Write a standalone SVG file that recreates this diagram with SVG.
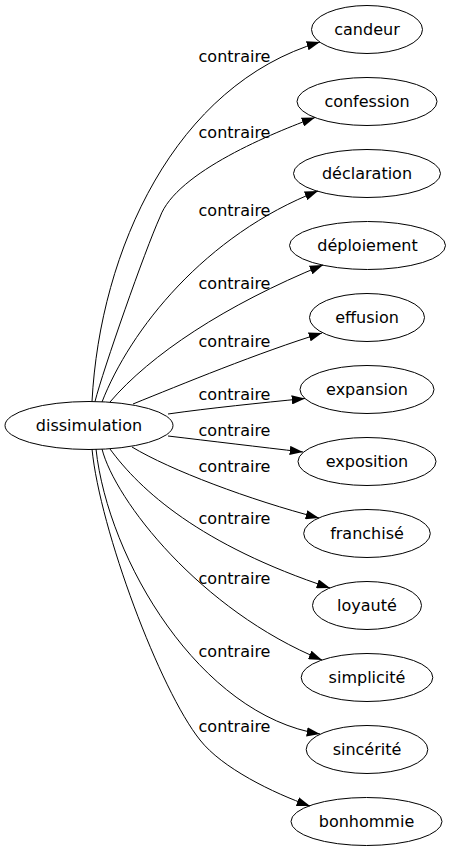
<svg xmlns="http://www.w3.org/2000/svg" width="452" height="851" viewBox="0 0 452 851">
<style>
text { font-family: "DejaVu Sans", "Liberation Sans", sans-serif; font-size: 16px; fill: #000; }
.node ellipse { fill: none; stroke: #000; stroke-width: 1; }
.node text { text-anchor: middle; }
.edge { fill: none; stroke: #000; stroke-width: 1; marker-end: url(#arr); }
.lbl { text-anchor: middle; }
</style>
<defs>
<marker id="arr" markerUnits="userSpaceOnUse" markerWidth="13.3" markerHeight="9.3" viewBox="0 0 13.3 9.3" refX="13.3" refY="4.65" orient="auto">
<path d="M0,0 L13.3,4.65 L0,9.3 z" fill="#000"/>
</marker>
</defs>
<rect width="452" height="851" fill="#fff"/>
<g id="connectors">
<path class="edge" d="M92,401.5 C100,250 175,85 320,42"/>
<path class="edge" d="M95,401.5 C103,370 145,250 160,217 C176,172 275,132 315,117.5"/>
<path class="edge" d="M102,402 C130,330 205,235 318,191"/>
<path class="edge" d="M110,402 C150,355 225,305 323,265"/>
<path class="edge" d="M133,404 C180,385 260,352 322,333"/>
<path class="edge" d="M168,414 C210,408 260,403 305,398.5"/>
<path class="edge" d="M168,436 C210,441 260,447 303,452"/>
<path class="edge" d="M132,447 C170,470 250,500 319,518"/>
<path class="edge" d="M110,449 C140,490 200,545 330,588"/>
<path class="edge" d="M102,449 C115,500 200,610 322,660"/>
<path class="edge" d="M96,449 C108,560 200,715 320,734"/>
<path class="edge" d="M92,449 C100,530 160,690 200,740 C222,768 273,793 310,806"/>
<text class="lbl" x="234.5" y="61.5">contraire</text>
<text class="lbl" x="234.5" y="137.5">contraire</text>
<text class="lbl" x="234.5" y="215.5">contraire</text>
<text class="lbl" x="234.5" y="288.5">contraire</text>
<text class="lbl" x="234.5" y="346.5">contraire</text>
<text class="lbl" x="234.5" y="399.5">contraire</text>
<text class="lbl" x="234.5" y="435.5">contraire</text>
<text class="lbl" x="234.5" y="471.5">contraire</text>
<text class="lbl" x="234.5" y="523.5">contraire</text>
<text class="lbl" x="234.5" y="583.5">contraire</text>
<text class="lbl" x="234.5" y="656.5">contraire</text>
<text class="lbl" x="234.5" y="731.5">contraire</text>
</g>
<g id="dissimulation" class="node"><ellipse cx="89" cy="425.5" rx="84" ry="24"/><text x="89" y="430.5">dissimulation</text></g>
<g id="candeur" class="node"><ellipse cx="367" cy="29.5" rx="55.5" ry="24"/><text x="367" y="35">candeur</text></g>
<g id="confession" class="node"><ellipse cx="367" cy="101.5" rx="70" ry="24"/><text x="367" y="107">confession</text></g>
<g id="declaration" class="node"><ellipse cx="367" cy="173.5" rx="73.5" ry="24"/><text x="367" y="179">déclaration</text></g>
<g id="deploiement" class="node"><ellipse cx="367.5" cy="245.5" rx="78" ry="24"/><text x="367.5" y="251">déploiement</text></g>
<g id="effusion" class="node"><ellipse cx="367" cy="317.5" rx="57.5" ry="24"/><text x="367" y="323">effusion</text></g>
<g id="expansion" class="node"><ellipse cx="367" cy="389.5" rx="67" ry="24"/><text x="367" y="395">expansion</text></g>
<g id="exposition" class="node"><ellipse cx="367" cy="461.5" rx="69" ry="24"/><text x="367" y="467">exposition</text></g>
<g id="franchise" class="node"><ellipse cx="367" cy="533.5" rx="63.3" ry="24"/><text x="367" y="539">franchisé</text></g>
<g id="loyaute" class="node"><ellipse cx="367" cy="605.5" rx="54.5" ry="24"/><text x="367" y="611">loyauté</text></g>
<g id="simplicite" class="node"><ellipse cx="367" cy="677.5" rx="65.8" ry="24"/><text x="367" y="683">simplicité</text></g>
<g id="sincerite" class="node"><ellipse cx="367" cy="749.5" rx="60.8" ry="24"/><text x="367" y="755">sincérité</text></g>
<g id="bonhommie" class="node"><ellipse cx="366.5" cy="821.5" rx="75.5" ry="24"/><text x="366.5" y="827">bonhommie</text></g>
</svg>
